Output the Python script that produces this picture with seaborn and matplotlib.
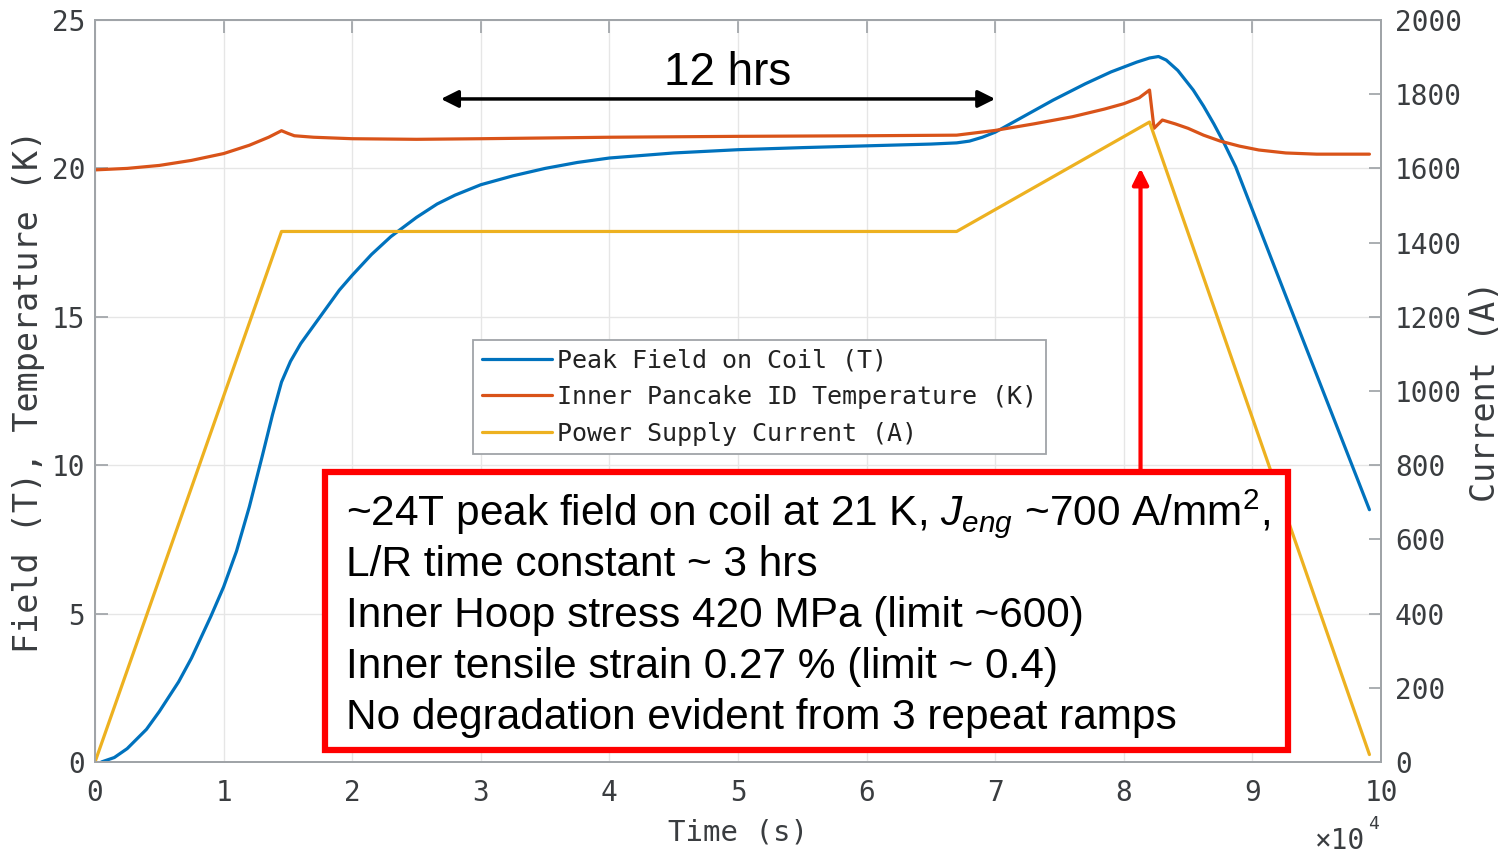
import numpy as np
import pandas as pd
import matplotlib.pyplot as plt
import seaborn as sns
from matplotlib.patches import Rectangle

# time in units of 1e4 s
field_time = [0.05, 0.15, 0.25, 0.4, 0.5, 0.65, 0.75, 0.9, 1.0, 1.1, 1.2, 1.3, 1.38, 1.45, 1.52,
              1.6, 1.75, 1.9, 2.0, 2.15, 2.3, 2.5, 2.66, 2.8, 3.0, 3.25, 3.5, 3.75, 4.0, 4.5,
              5.0, 5.5, 6.0, 6.5, 6.7, 6.8, 6.9, 7.0, 7.2, 7.45, 7.7, 7.9, 8.1, 8.2, 8.27,
              8.33, 8.42, 8.54, 8.62, 8.7, 8.78, 8.87, 9.26, 9.91]
field_tesla = [0.0, 0.15, 0.45, 1.1, 1.7, 2.7, 3.5, 4.9, 5.9, 7.1, 8.6, 10.3, 11.7, 12.8, 13.5,
               14.1, 15.0, 15.9, 16.4, 17.1, 17.7, 18.35, 18.8, 19.1, 19.45, 19.75, 20.0, 20.2, 20.35, 20.52,
               20.63, 20.7, 20.76, 20.82, 20.86, 20.92, 21.05, 21.22, 21.7, 22.3, 22.85, 23.25, 23.58, 23.72, 23.77,
               23.65, 23.3, 22.64, 22.1, 21.5, 20.85, 20.05, 15.7, 8.5]

temp_time = [0.0, 0.25, 0.5, 0.75, 1.0, 1.2, 1.35, 1.45, 1.5, 1.55, 1.7, 2.0, 2.5, 3.0, 4.0,
             5.0, 6.0, 6.7, 7.0, 7.3, 7.6, 7.85, 8.0, 8.12, 8.2, 8.235, 8.3, 8.4, 8.5, 8.62,
             8.75, 8.9, 9.05, 9.26, 9.5, 9.91]
temp_kelvin = [19.95, 20.0, 20.1, 20.27, 20.5, 20.78, 21.05, 21.27, 21.18, 21.1, 21.05, 21.0, 20.98, 21.0, 21.05,
               21.08, 21.1, 21.12, 21.28, 21.5, 21.74, 22.0, 22.18, 22.38, 22.64, 21.35, 21.63, 21.5, 21.35, 21.12,
               20.92, 20.75, 20.62, 20.52, 20.48, 20.48]

current_time = [0.0, 1.45, 6.7, 8.2, 9.91]
current_amp = [0, 1430, 1430, 1725, 20]

legend_labels = ["Peak Field on Coil (T)", "Inner Pancake ID Temperature (K)", "Power Supply Current (A)"]
box_lines = [
    r"~24T peak field on coil at 21 K, $J_{eng}$ ~700 A/mm$^2$,",
    "L/R time constant ~ 3 hrs",
    "Inner Hoop stress 420 MPa (limit ~600)",
    "Inner tensile strain 0.27 % (limit ~ 0.4)",
    "No degradation evident from 3 repeat ramps",
]

BLUE, RED, YELLOW = "#0072BD", "#D95319", "#EDB120"
AXC = "#a0a4a8"
TXT = "#3a3d40"

sns.set_theme(style="white")
plt.rcParams['font.family'] = ['DejaVu Sans Mono', 'DejaVu Sans']
plt.rcParams['mathtext.fontset'] = 'custom'
plt.rcParams['mathtext.rm'] = 'Liberation Sans'
plt.rcParams['mathtext.it'] = 'Liberation Sans:italic'

fig = plt.figure(figsize=(15.06, 8.55), dpi=100)
ax = fig.add_axes([0.0631, 0.1088, 0.8539, 0.8678])
ax2 = ax.twinx()

df_f = pd.DataFrame({"t": field_time, "v": field_tesla})
df_t = pd.DataFrame({"t": temp_time, "v": temp_kelvin})
df_c = pd.DataFrame({"t": current_time, "v": current_amp})
sns.lineplot(data=df_f, x="t", y="v", ax=ax, color=BLUE, lw=2.3)
sns.lineplot(data=df_t, x="t", y="v", ax=ax, color=RED, lw=2.3)
sns.lineplot(data=df_c, x="t", y="v", ax=ax2, color=YELLOW, lw=2.3)

ax.set_xlim(0, 10)
ax.set_ylim(0, 25)
ax2.set_ylim(0, 2000)
ax.set_xticks(range(0, 11))
ax.set_yticks(range(0, 26, 5))
ax2.set_yticks(range(0, 2001, 200))
ax.grid(True, color="#e6e6e6", lw=1)
ax.set_axisbelow(True)

for a in (ax, ax2):
    for s in a.spines.values():
        s.set_color(AXC)
        s.set_linewidth(1.3)
ax.tick_params(axis='x', direction='in', top=True, length=9, color=AXC, labelsize=20, pad=12, labelcolor=TXT)
ax.tick_params(axis='y', direction='in', length=9, color=AXC, labelsize=20, pad=7, labelcolor=TXT)
ax2.tick_params(axis='y', direction='in', length=9, color=AXC, labelsize=20, pad=10, labelcolor=TXT)

ax.set_xlabel("Time (s)", fontsize=21, color=TXT)
ax.set_ylabel("Field (T), Temperature (K)", fontsize=24, color=TXT)
ax2.set_ylabel("Current (A)", fontsize=24, color=TXT)
ax.xaxis.set_label_coords(0.5, -0.0957)
ax.xaxis.label.set_va('center')
ax.yaxis.set_label_coords(-0.052, 0.5)
ax.yaxis.label.set_va('center')
ax2.yaxis.set_label_coords(1.081, 0.5)
ax2.yaxis.label.set_va('center')

ax.text(0.988, -0.106, "×10", transform=ax.transAxes, ha='right', va='center', fontsize=20, color=TXT)
ax.text(0.99, -0.084, "4", transform=ax.transAxes, ha='left', va='center', fontsize=13, color=TXT)

# legend
handles = [ax.lines[0], ax.lines[1], ax2.lines[0]]
leg = ax2.legend(handles, legend_labels, loc='upper left', bbox_to_anchor=(0.294, 0.569),
                 borderaxespad=0, frameon=True, fancybox=False, edgecolor=AXC, fontsize=18,
                 handlelength=2.8, handletextpad=0.2, labelspacing=0.5, borderpad=0.35, framealpha=1)
leg.get_frame().set_linewidth(1.3)
for t in leg.get_texts():
    t.set_color("#222222")

# 12 hrs arrow
ax2.annotate('', xy=(2.69, 22.34), xytext=(7.0, 22.34), xycoords=ax.transData, textcoords=ax.transData,
             arrowprops=dict(arrowstyle='<|-|>', color='black', lw=2.5, mutation_scale=26, shrinkA=0, shrinkB=0))
ax2.text(4.92, 22.81, "12 hrs", transform=ax.transData, ha='center', va='baseline',
         fontsize=33, family='Liberation Sans', color='black')

# red arrow + box
ax2.annotate('', xy=(8.13, 20.0), xytext=(8.13, 9.8), xycoords=ax.transData, textcoords=ax.transData,
             arrowprops=dict(arrowstyle='-|>', color='#ff0000', lw=3, mutation_scale=24, shrinkA=0, shrinkB=0),
             zorder=9)
ax2.add_patch(Rectangle((1.788, 0.404), 9.277 - 1.788, 9.77 - 0.404, transform=ax.transData,
                        facecolor='white', edgecolor='#ff0000', lw=4.5, zorder=10))
baselines = [7.985, 6.27, 4.55, 2.83, 1.11]
for line, yb in zip(box_lines, baselines):
    ax2.text(1.952, yb, line, transform=ax.transData, ha='left', va='baseline', fontsize=30.5,
             family='Liberation Sans', color='black', zorder=11)

fig.savefig("out.png", dpi=100)
